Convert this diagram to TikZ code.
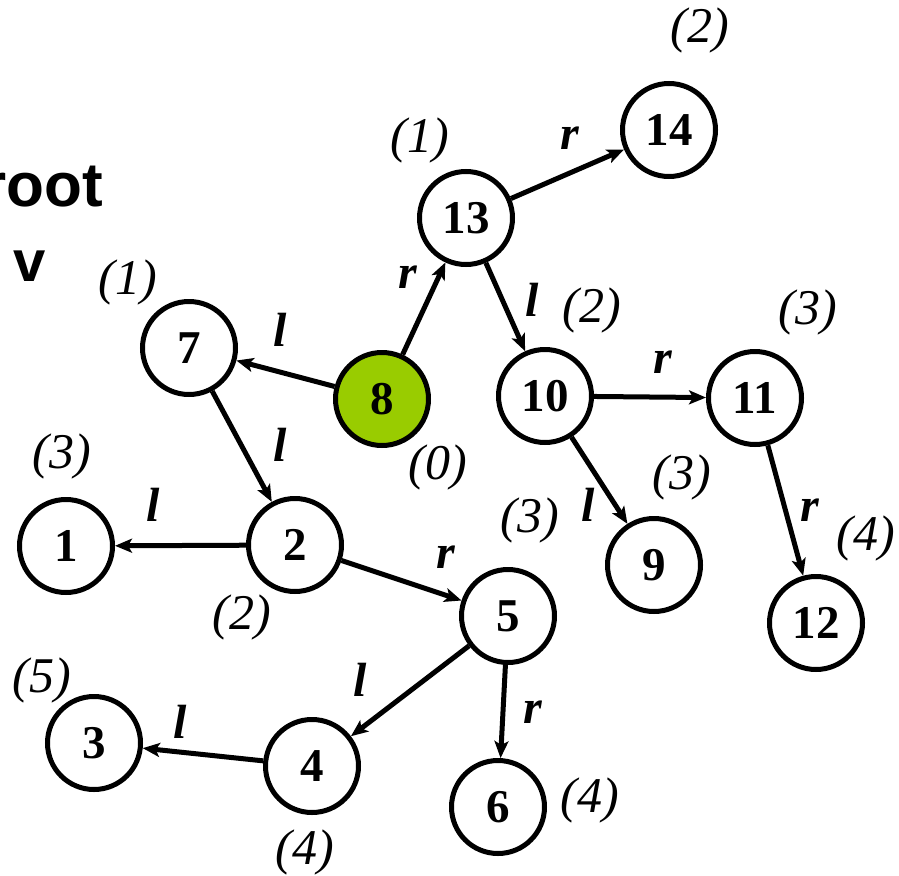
\documentclass[tikz,border=0pt]{standalone}
\usepackage{fontspec}
\setmainfont{Liberation Serif}
\newfontfamily\numserif{Liberation Serif}
\newfontfamily\labsans{Liberation Sans}
\usetikzlibrary{arrows.meta}
\definecolor{leaf}{RGB}{153,204,0}
\tikzset{
  vtx/.style={circle,draw=black,line width=5pt,minimum size=93pt,inner sep=0pt,fill=white,
    font=\numserif\fontsize{47}{50}\selectfont\bfseries},
  depth/.style={font=\numserif\fontsize{50}{54}\selectfont\itshape,inner sep=0pt},
  elab/.style={font=\numserif\fontsize{48}{52}\selectfont\bfseries\itshape,inner sep=0pt},
  sidetxt/.style={inner sep=0pt},
  edge/.style={line width=5pt,-{Stealth[length=17pt,width=14pt,inset=4pt]}}
}
\begin{document}
\begin{tikzpicture}[x=1pt,y=-1pt]
\useasboundingbox (0,0) rectangle (899,875);
% side texts
\node[sidetxt,font=\labsans\fontsize{62}{66}\selectfont\bfseries,anchor=east] (root) at (103,187) {root};
\node[sidetxt,font=\labsans\fontsize{58}{62}\selectfont\bfseries] (vtext) at (30,266) {v};
% vertices
\node[vtx] (n14) at (669,130) {14};
\node[vtx] (n13) at (466,218) {13};
\node[vtx] (n7) at (189,348) {7};
\node[vtx,fill=leaf] (n8) at (382,399) {8};
\node[vtx] (n10) at (545,396) {10};
\node[vtx] (n11) at (755,398) {11};
\node[vtx] (n1) at (66,546) {1};
\node[vtx] (n2) at (295,545) {2};
\node[vtx] (n9) at (654,565) {9};
\node[vtx] (n5) at (508,616) {5};
\node[vtx] (n12) at (816,623) {12};
\node[vtx] (n3) at (94,743) {3};
\node[vtx] (n4) at (312,766) {4};
\node[vtx] (n6) at (498,807) {6};
% edges
\draw[edge] (n8) -- (n7);
\draw[edge] (n8) -- (n13);
\draw[edge] (n13) -- (n14);
\draw[edge] (n13) -- (n10);
\draw[edge] (n10) -- (n11);
\draw[edge] (n10) -- (n9);
\draw[edge] (n11) -- (n12);
\draw[edge] (n7) -- (n2);
\draw[edge] (n2) -- (n1);
\draw[edge] (n2) -- (n5);
\draw[edge] (n5) -- (n4);
\draw[edge] (n5) -- (n6);
\draw[edge] (n4) -- (n3);
% edge labels
\node[elab] (e87) at (280,330) {l};
\node[elab] (e813) at (408,277) {r};
\node[elab] (e1314) at (570,138) {r};
\node[elab] (e1310) at (532,300) {l};
\node[elab] (e1011) at (663,362) {r};
\node[elab] (e109) at (588,505) {l};
\node[elab] (e1112) at (810,510) {r};
\node[elab] (e72) at (280,445) {l};
\node[elab] (e21) at (153,505) {l};
\node[elab] (e25) at (446,557) {r};
\node[elab] (e54) at (360,680) {l};
\node[elab] (e56) at (533,712) {r};
\node[elab] (e43) at (180,722) {l};
% depth labels
\node[depth] (d7) at (128,282) {(1)};
\node[depth] (d13) at (420,140) {(1)};
\node[depth] (d14) at (700,30) {(2)};
\node[depth] (d10) at (592,310) {(2)};
\node[depth] (d11) at (808,312) {(3)};
\node[depth] (d8) at (438,467) {(0)};
\node[depth] (d1) at (62,456) {(3)};
\node[depth] (d2) at (242,617) {(2)};
\node[depth] (d5) at (530,520) {(3)};
\node[depth] (d9) at (682,477) {(3)};
\node[depth] (d12) at (866,538) {(4)};
\node[depth] (d3) at (42,680) {(5)};
\node[depth] (d4) at (305,852) {(4)};
\node[depth] (d6) at (590,800) {(4)};
\end{tikzpicture}
\end{document}
